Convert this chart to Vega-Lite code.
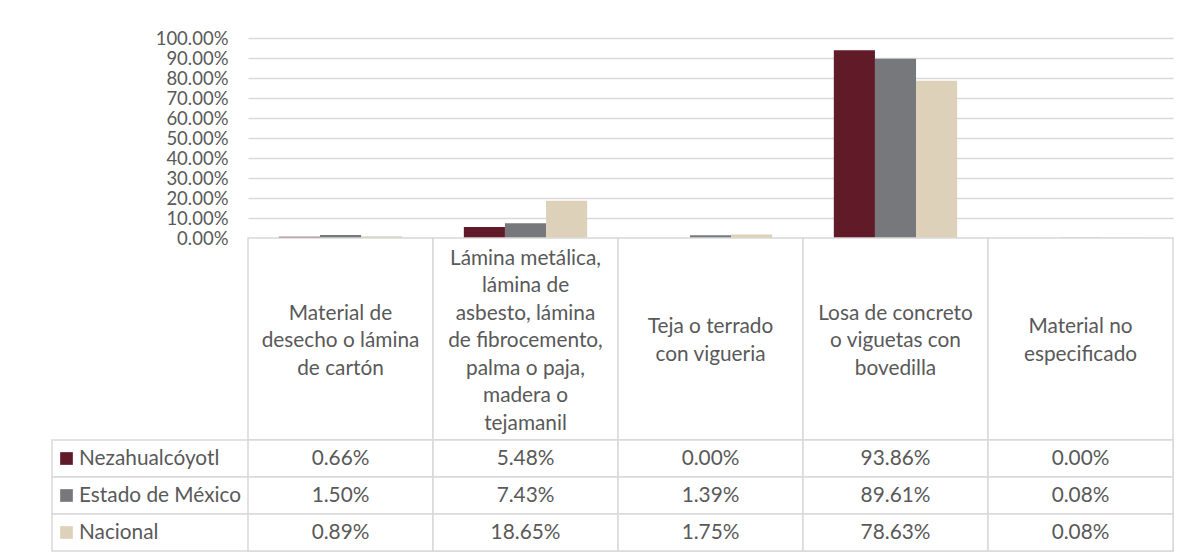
{
  "$schema": "https://vega.github.io/schema/vega-lite/v6.json",
  "background": "white",
  "padding": {"left": 51, "top": 29, "right": 13, "bottom": 3},
  "spacing": 0,
  "bounds": "flush",
  "config": {
    "view": {"stroke": null},
    "font": "Lato",
    "text": {"font": "Lato", "fontSize": 20.8, "color": "#595959"}
  },
  "datasets": {
    "tabla": [
      {"material": "Material de\ndesecho o lámina\nde cartón", "serie": "Nezahualcóyotl", "valor": 0.0066},
      {"material": "Material de\ndesecho o lámina\nde cartón", "serie": "Estado de México", "valor": 0.015},
      {"material": "Material de\ndesecho o lámina\nde cartón", "serie": "Nacional", "valor": 0.0089},
      {"material": "Lámina metálica,\nlámina de\nasbesto, lámina\nde fibrocemento,\npalma o paja,\nmadera o\ntejamanil", "serie": "Nezahualcóyotl", "valor": 0.0548},
      {"material": "Lámina metálica,\nlámina de\nasbesto, lámina\nde fibrocemento,\npalma o paja,\nmadera o\ntejamanil", "serie": "Estado de México", "valor": 0.0743},
      {"material": "Lámina metálica,\nlámina de\nasbesto, lámina\nde fibrocemento,\npalma o paja,\nmadera o\ntejamanil", "serie": "Nacional", "valor": 0.1865},
      {"material": "Teja o terrado\ncon vigueria", "serie": "Nezahualcóyotl", "valor": 0.0},
      {"material": "Teja o terrado\ncon vigueria", "serie": "Estado de México", "valor": 0.0139},
      {"material": "Teja o terrado\ncon vigueria", "serie": "Nacional", "valor": 0.0175},
      {"material": "Losa de concreto\no viguetas con\nbovedilla", "serie": "Nezahualcóyotl", "valor": 0.9386},
      {"material": "Losa de concreto\no viguetas con\nbovedilla", "serie": "Estado de México", "valor": 0.8961},
      {"material": "Losa de concreto\no viguetas con\nbovedilla", "serie": "Nacional", "valor": 0.7863},
      {"material": "Material no\nespecificado", "serie": "Nezahualcóyotl", "valor": 0.0},
      {"material": "Material no\nespecificado", "serie": "Estado de México", "valor": 0.0008},
      {"material": "Material no\nespecificado", "serie": "Nacional", "valor": 0.0008}
    ]
  },
  "vconcat": [
    {
      "width": 1121, "height": 200,
      "data": {"name": "tabla"},
      "mark": {"type": "bar"},
      "encoding": {
        "x": {"field": "material", "type": "nominal", "sort": null,
              "scale": {"range": [196, 1121], "paddingInner": 0, "paddingOuter": 0}, "axis": null},
        "xOffset": {"field": "serie", "type": "nominal",
                    "sort": ["Nezahualcóyotl", "Estado de México", "Nacional"],
                    "scale": {"paddingInner": 0, "paddingOuter": 0.75}},
        "y": {"field": "valor", "type": "quantitative",
              "scale": {"domain": [0, 1], "nice": false},
              "axis": {"format": ".2%", "values": [0, 0.1, 0.2, 0.3, 0.4, 0.5, 0.6, 0.7, 0.8, 0.9, 1],
                       "title": null, "domain": false, "ticks": false, "labelPadding": 20, "offset": -196,
                       "labelFont": "Lato", "labelFontSize": 18.5, "labelColor": "#595959",
                       "grid": true, "gridColor": "#d9d9d9", "gridWidth": 1.5}},
        "color": {"field": "serie", "type": "nominal",
                  "scale": {"domain": ["Nezahualcóyotl", "Estado de México", "Nacional"],
                            "range": ["#611a28", "#76787b", "#ddd1ba"]},
                  "legend": null}
      }
    },
    {
      "width": 1121, "height": 202,
      "data": {"name": "tabla"},
      "transform": [{"filter": "datum.serie === 'Nacional'"}],
      "encoding": {
        "x": {"field": "material", "type": "nominal", "sort": null,
              "scale": {"range": [196, 1121], "paddingInner": 0, "paddingOuter": 0}, "axis": null}
      },
      "layer": [
        {"mark": {"type": "rect", "fill": "white", "stroke": "#d9d9d9", "strokeWidth": 1.5}},
        {"mark": {"type": "text", "lineBreak": "\n", "lineHeight": 27.5, "baseline": "middle",
                  "dy": {"expr": "2 - (length(split(datum.material, '\\n')) - 1) * 13.75"}},
         "encoding": {"text": {"field": "material"}}}
      ]
    },
    {
      "width": 1121, "height": 111,
      "data": {"name": "tabla"},
      "encoding": {
        "y": {"field": "serie", "type": "nominal",
              "sort": ["Nezahualcóyotl", "Estado de México", "Nacional"],
              "scale": {"paddingInner": 0, "paddingOuter": 0}, "axis": null}
      },
      "layer": [
        {"transform": [{"filter": "indexof(datum.material, 'especificado') >= 0"}],
         "mark": {"type": "rect", "fill": "white", "stroke": "#d9d9d9", "strokeWidth": 1.5}},
        {"mark": {"type": "rect", "fill": "white", "stroke": "#d9d9d9", "strokeWidth": 1.5},
         "encoding": {"x": {"field": "material", "type": "nominal", "sort": null,
              "scale": {"range": [196, 1121], "paddingInner": 0, "paddingOuter": 0}, "axis": null}}},
        {"transform": [{"filter": "indexof(datum.material, 'especificado') >= 0"}],
         "mark": {"type": "square", "size": 161, "opacity": 1, "xOffset": -546},
         "encoding": {"color": {"field": "serie", "type": "nominal",
                  "scale": {"domain": ["Nezahualcóyotl", "Estado de México", "Nacional"],
                            "range": ["#611a28", "#76787b", "#ddd1ba"]},
                  "legend": null}}},
        {"transform": [{"filter": "indexof(datum.material, 'especificado') >= 0"}],
         "mark": {"type": "text", "align": "left", "dx": -533.5},
         "encoding": {"text": {"field": "serie"}}},
        {"mark": {"type": "text"},
         "encoding": {"x": {"field": "material", "type": "nominal", "sort": null,
              "scale": {"range": [196, 1121], "paddingInner": 0, "paddingOuter": 0}, "axis": null},
                      "text": {"field": "valor", "format": ".2%"}}}
      ]
    }
  ]
}
